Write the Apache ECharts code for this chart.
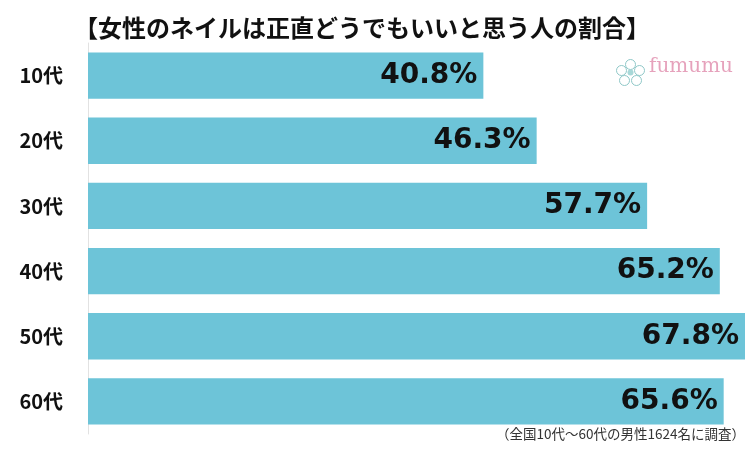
<!DOCTYPE html>
<html>
<head>
<meta charset="utf-8">
<script src="https://cdn.jsdelivr.net/npm/echarts@6/dist/echarts.min.js"></script>
<style>
html, body { margin: 0; padding: 0; background: #fff; }
#main { width: 750px; height: 453px; }
</style>
</head>
<body>
<div id="main"></div>
<script>
var titleText = '【女性のネイルは正直どうでもいいと思う人の割合】';
var noteText = '（全国10代～60代の男性1624名に調査）';
var ages = ['10代', '20代', '30代', '40代', '50代', '60代'];
var rates = [40.8, 46.3, 57.7, 65.2, 67.8, 65.6];

var myChart = echarts.init(document.getElementById('main'));

option = {
    backgroundColor: '#fff',
    animation: false,
    title: {
        text: titleText,
        left: 357,
        textAlign: 'center',
        top: 11,
        textStyle: {
            fontFamily: 'Noto Sans CJK JP',
            fontSize: 24,
            fontWeight: 'bold',
            color: '#111'
        }
    },
    grid: {
        left: 88,
        right: 5,
        top: 43,
        bottom: 19
    },
    xAxis: {
        type: 'value',
        min: 0,
        max: 67.8,
        show: false
    },
    yAxis: {
        type: 'category',
        inverse: true,
        data: ages,
        axisLine: { show: true, lineStyle: { color: '#e2e2e2', width: 1 } },
        axisTick: { show: false },
        axisLabel: {
            margin: 25,
            fontFamily: 'Noto Sans CJK JP',
            fontSize: 20,
            fontWeight: 'bold',
            color: '#111'
        }
    },
    series: [{
        type: 'bar',
        data: rates,
        barCategoryGap: '29%',
        itemStyle: { color: '#6dc4d8' },
        label: {
            show: true,
            position: 'insideRight',
            distance: 6,
            formatter: '{c}%',
            fontFamily: 'DejaVu Sans',
            fontSize: 28,
            fontWeight: 'bold',
            color: '#111'
        }
    }],
    graphic: [{
        type: 'text',
        right: 5,
        top: 427,
        style: {
            text: noteText,
            fontFamily: 'Noto Sans CJK JP',
            fontSize: 13.5,
            fill: '#333'
        }
    }, {
        type: 'group',
        left: 614,
        top: 57,
        children: [
            { type: 'circle', shape: { cx: 13, cy: 4, r: 5 }, style: { fill: 'none', stroke: '#8fc8c8', lineWidth: 1 } },
            { type: 'circle', shape: { cx: 22, cy: 10, r: 5 }, style: { fill: 'none', stroke: '#8fc8c8', lineWidth: 1 } },
            { type: 'circle', shape: { cx: 19, cy: 20, r: 5 }, style: { fill: 'none', stroke: '#8fc8c8', lineWidth: 1 } },
            { type: 'circle', shape: { cx: 7, cy: 20, r: 5 }, style: { fill: 'none', stroke: '#8fc8c8', lineWidth: 1 } },
            { type: 'circle', shape: { cx: 4, cy: 10, r: 5 }, style: { fill: 'none', stroke: '#8fc8c8', lineWidth: 1 } },
            { type: 'circle', shape: { cx: 13, cy: 12, r: 3 }, style: { fill: '#a8d8d8' } }
        ]
    }, {
        type: 'text',
        left: 649,
        top: 57,
        style: {
            text: 'fumumu',
            fontFamily: 'DejaVu Serif',
            fontSize: 20,
            fill: '#e6a2bc'
        }
    }]
};

myChart.setOption(option);
</script>
</body>
</html>
